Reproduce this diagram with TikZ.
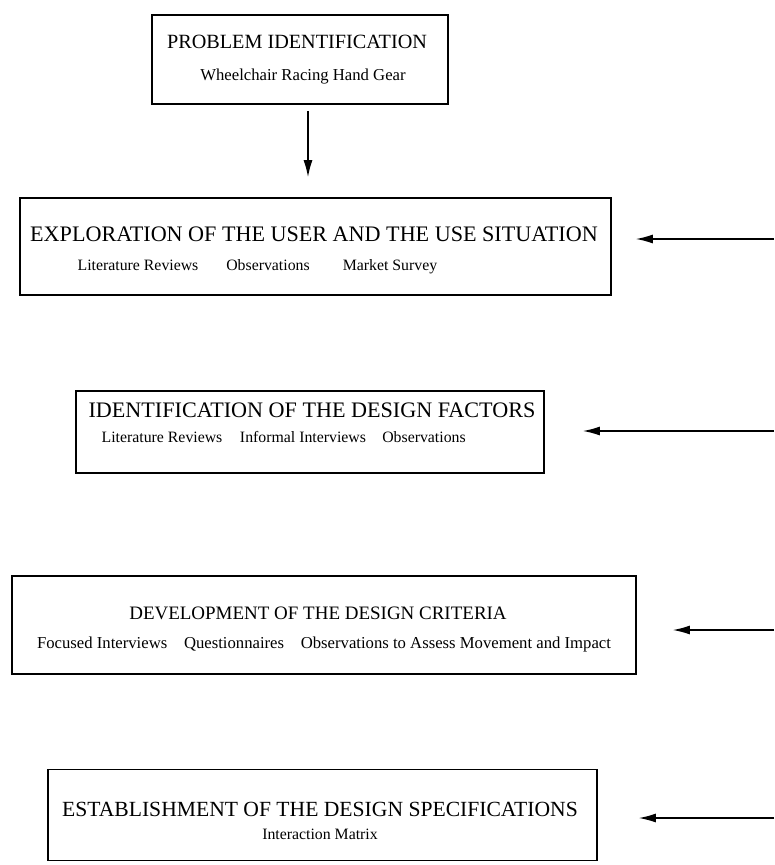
\documentclass[tikz,border=0pt]{standalone}
\usepackage{fontspec}
\setmainfont{Liberation Serif}
\usetikzlibrary{arrows.meta,positioning}
\tikzset{
  stage/.style={draw=black,line width=1pt,inner sep=0pt},
  heading/.style={font=\fontsize{12.6}{14}\selectfont,inner sep=0pt},
  method/.style={font=\fontsize{9}{11}\selectfont,inner sep=0pt,anchor=base},
  arrow/.style={-{Latex[length=0.34cm,width=0.18cm]},line width=0.8pt}
}

\begin{document}
\begin{tikzpicture}[x=0.02cm,y=-0.02cm]
  \useasboundingbox (0,0) rectangle (774,865);
  % stages
  \node[stage,minimum width=5.92cm,minimum height=1.78cm] (s1) at (300,59.5) {};
  \node[stage,minimum width=11.82cm,minimum height=1.94cm] (s2) at (315.5,246.5) {};
  \node[stage,minimum width=9.36cm,minimum height=1.64cm] (s3) at (310,432) {};
  \node[stage,minimum width=12.48cm,minimum height=1.96cm] (s4) at (324,625) {};
  \node[stage,minimum width=10.98cm,minimum height=1.82cm] (s5) at (322.5,815) {};
  % headings
  \node[heading,font=\fontsize{11.5}{13}\selectfont] (h1) at (297,42) {PROBLEM IDENTIFICATION};
  \node[heading] (h2) at (314,234) {EXPLORATION OF THE USER AND THE USE SITUATION};
  \node[heading] (h3) at (312,410) {IDENTIFICATION OF THE DESIGN FACTORS};
  \node[heading,font=\fontsize{10.8}{13}\selectfont] (h4) at (318,613) {DEVELOPMENT OF THE DESIGN CRITERIA};
  \node[heading,font=\fontsize{12.3}{14}\selectfont] (h5) at (320,809) {ESTABLISHMENT OF THE DESIGN SPECIFICATIONS};
  % methods
  \node[method,font=\fontsize{9.5}{11}\selectfont] (m1) at (303,81) {Wheelchair Racing Hand Gear};
  \node[method] (m2a) at (138,270) {Literature Reviews};
  \node[method] (m2b) at (268,270) {Observations};
  \node[method] (m2c) at (390,270) {Market Survey};
  \node[method] (m3a) at (162,442) {Literature Reviews};
  \node[method] (m3b) at (303,442) {Informal Interviews};
  \node[method] (m3c) at (424,442) {Observations};
  \node[method,font=\fontsize{9.5}{11}\selectfont] (m4) at (324,648) {Focused Interviews\quad Questionnaires\quad Observations to Assess Movement and Impact};
  \node[method] (m5) at (320,839) {Interaction Matrix};
  % feedback inputs
  \coordinate (in2) at (774,239);
  \coordinate (in3) at (774,431);
  \coordinate (in4) at (774,630);
  \coordinate (in5) at (774,818);
  \draw[arrow,shorten <=0.12cm,shorten >=0.4cm] ([xshift=0.16cm]s1.south) -- ([xshift=0.16cm]s1.south |- s2.north);
  \draw[arrow,shorten >=0.48cm] (in2) -- (s2.east |- in2);
  \draw[arrow,shorten >=0.76cm] (in3) -- (s3.east |- in3);
  \draw[arrow,shorten >=0.72cm] (in4) -- (s4.east |- in4);
  \draw[arrow,shorten >=0.82cm] (in5) -- (s5.east |- in5);
\end{tikzpicture}
\end{document}
